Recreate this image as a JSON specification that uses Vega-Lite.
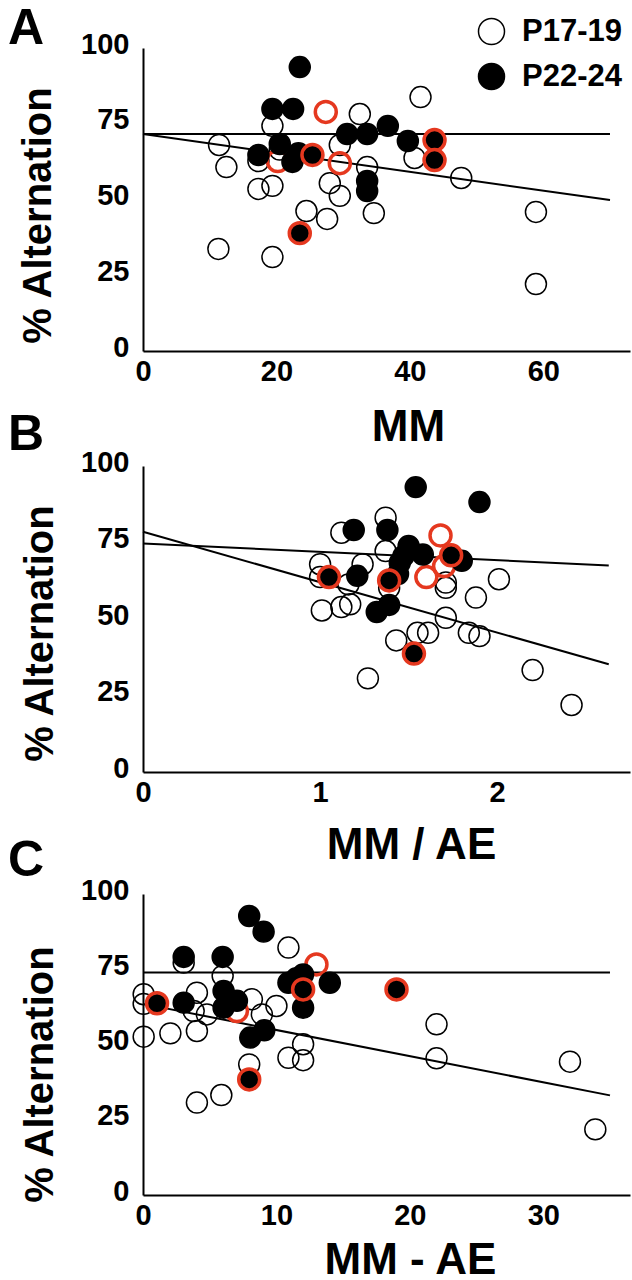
{
  "$schema": "https://vega.github.io/schema/vega-lite/v6.json",
  "background": "white",
  "padding": {"left": 8, "top": 4, "right": 2, "bottom": 0},
  "datasets": {
    "ptsA": [
      {"x": 41.6, "y": 83.8, "group": "P17-19", "hl": "no"},
      {"x": 32.5, "y": 78.2, "group": "P17-19", "hl": "no"},
      {"x": 19.4, "y": 74.3, "group": "P17-19", "hl": "no"},
      {"x": 11.4, "y": 68.0, "group": "P17-19", "hl": "no"},
      {"x": 12.5, "y": 60.7, "group": "P17-19", "hl": "no"},
      {"x": 17.3, "y": 53.5, "group": "P17-19", "hl": "no"},
      {"x": 19.4, "y": 54.5, "group": "P17-19", "hl": "no"},
      {"x": 29.5, "y": 68.0, "group": "P17-19", "hl": "no"},
      {"x": 17.3, "y": 62.7, "group": "P17-19", "hl": "no"},
      {"x": 40.7, "y": 63.7, "group": "P17-19", "hl": "no"},
      {"x": 47.7, "y": 57.1, "group": "P17-19", "hl": "no"},
      {"x": 58.9, "y": 45.9, "group": "P17-19", "hl": "no"},
      {"x": 58.9, "y": 22.1, "group": "P17-19", "hl": "no"},
      {"x": 28.0, "y": 55.4, "group": "P17-19", "hl": "no"},
      {"x": 29.5, "y": 51.2, "group": "P17-19", "hl": "no"},
      {"x": 24.5, "y": 46.2, "group": "P17-19", "hl": "no"},
      {"x": 27.6, "y": 43.6, "group": "P17-19", "hl": "no"},
      {"x": 34.6, "y": 45.5, "group": "P17-19", "hl": "no"},
      {"x": 11.3, "y": 33.7, "group": "P17-19", "hl": "no"},
      {"x": 19.4, "y": 31.0, "group": "P17-19", "hl": "no"},
      {"x": 33.6, "y": 60.7, "group": "P17-19", "hl": "no"},
      {"x": 20.5, "y": 66.5, "group": "P17-19", "hl": "no"},
      {"x": 27.4, "y": 78.9, "group": "P17-19", "hl": "yes"},
      {"x": 29.5, "y": 62.0, "group": "P17-19", "hl": "yes"},
      {"x": 20.2, "y": 62.7, "group": "P17-19", "hl": "yes"},
      {"x": 23.5, "y": 93.7, "group": "P22-24", "hl": "no"},
      {"x": 19.4, "y": 79.9, "group": "P22-24", "hl": "no"},
      {"x": 22.5, "y": 79.9, "group": "P22-24", "hl": "no"},
      {"x": 30.6, "y": 71.6, "group": "P22-24", "hl": "no"},
      {"x": 33.6, "y": 71.6, "group": "P22-24", "hl": "no"},
      {"x": 36.7, "y": 74.3, "group": "P22-24", "hl": "no"},
      {"x": 39.7, "y": 69.3, "group": "P22-24", "hl": "no"},
      {"x": 17.3, "y": 64.7, "group": "P22-24", "hl": "no"},
      {"x": 20.5, "y": 68.3, "group": "P22-24", "hl": "no"},
      {"x": 23.3, "y": 65.3, "group": "P22-24", "hl": "no"},
      {"x": 22.4, "y": 62.4, "group": "P22-24", "hl": "no"},
      {"x": 33.6, "y": 56.1, "group": "P22-24", "hl": "no"},
      {"x": 33.6, "y": 52.8, "group": "P22-24", "hl": "no"},
      {"x": 43.7, "y": 69.6, "group": "P22-24", "hl": "yes"},
      {"x": 43.7, "y": 63.0, "group": "P22-24", "hl": "yes"},
      {"x": 25.4, "y": 64.7, "group": "P22-24", "hl": "yes"},
      {"x": 23.5, "y": 38.9, "group": "P22-24", "hl": "yes"}
    ],
    "ptsB": [
      {"x": 1.37, "y": 83.1, "group": "P17-19", "hl": "no"},
      {"x": 1.12, "y": 78.2, "group": "P17-19", "hl": "no"},
      {"x": 1.00, "y": 67.9, "group": "P17-19", "hl": "no"},
      {"x": 1.24, "y": 67.9, "group": "P17-19", "hl": "no"},
      {"x": 1.00, "y": 63.7, "group": "P17-19", "hl": "no"},
      {"x": 1.71, "y": 61.9, "group": "P17-19", "hl": "no"},
      {"x": 1.71, "y": 60.2, "group": "P17-19", "hl": "no"},
      {"x": 2.01, "y": 63.0, "group": "P17-19", "hl": "no"},
      {"x": 1.88, "y": 57.0, "group": "P17-19", "hl": "no"},
      {"x": 1.01, "y": 52.8, "group": "P17-19", "hl": "no"},
      {"x": 1.12, "y": 53.9, "group": "P17-19", "hl": "no"},
      {"x": 1.17, "y": 54.8, "group": "P17-19", "hl": "no"},
      {"x": 1.16, "y": 61.3, "group": "P17-19", "hl": "no"},
      {"x": 1.71, "y": 50.4, "group": "P17-19", "hl": "no"},
      {"x": 1.61, "y": 45.5, "group": "P17-19", "hl": "no"},
      {"x": 1.55, "y": 45.5, "group": "P17-19", "hl": "no"},
      {"x": 1.84, "y": 45.5, "group": "P17-19", "hl": "no"},
      {"x": 1.90, "y": 44.4, "group": "P17-19", "hl": "no"},
      {"x": 1.43, "y": 43.0, "group": "P17-19", "hl": "no"},
      {"x": 1.27, "y": 30.6, "group": "P17-19", "hl": "no"},
      {"x": 2.20, "y": 33.3, "group": "P17-19", "hl": "no"},
      {"x": 2.42, "y": 21.9, "group": "P17-19", "hl": "no"},
      {"x": 1.39, "y": 60.2, "group": "P17-19", "hl": "no"},
      {"x": 1.37, "y": 72.2, "group": "P17-19", "hl": "no"},
      {"x": 1.68, "y": 77.3, "group": "P17-19", "hl": "yes"},
      {"x": 1.60, "y": 63.7, "group": "P17-19", "hl": "yes"},
      {"x": 1.70, "y": 67.3, "group": "P17-19", "hl": "yes"},
      {"x": 1.54, "y": 93.1, "group": "P22-24", "hl": "no"},
      {"x": 1.90, "y": 88.2, "group": "P22-24", "hl": "no"},
      {"x": 1.19, "y": 79.1, "group": "P22-24", "hl": "no"},
      {"x": 1.38, "y": 79.1, "group": "P22-24", "hl": "no"},
      {"x": 1.50, "y": 73.9, "group": "P22-24", "hl": "no"},
      {"x": 1.58, "y": 71.1, "group": "P22-24", "hl": "no"},
      {"x": 1.80, "y": 69.0, "group": "P22-24", "hl": "no"},
      {"x": 1.45, "y": 68.4, "group": "P22-24", "hl": "no"},
      {"x": 1.44, "y": 64.7, "group": "P22-24", "hl": "no"},
      {"x": 1.21, "y": 64.1, "group": "P22-24", "hl": "no"},
      {"x": 1.32, "y": 52.3, "group": "P22-24", "hl": "no"},
      {"x": 1.39, "y": 54.6, "group": "P22-24", "hl": "no"},
      {"x": 1.47, "y": 70.5, "group": "P22-24", "hl": "no"},
      {"x": 1.74, "y": 70.8, "group": "P22-24", "hl": "yes"},
      {"x": 1.05, "y": 63.7, "group": "P22-24", "hl": "yes"},
      {"x": 1.39, "y": 62.6, "group": "P22-24", "hl": "yes"},
      {"x": 1.53, "y": 38.7, "group": "P22-24", "hl": "yes"}
    ],
    "ptsC": [
      {"x": 10.9, "y": 82.2, "group": "P17-19", "hl": "no"},
      {"x": 3.05, "y": 77.2, "group": "P17-19", "hl": "no"},
      {"x": 5.97, "y": 72.8, "group": "P17-19", "hl": "no"},
      {"x": 0.05, "y": 66.7, "group": "P17-19", "hl": "no"},
      {"x": 0.05, "y": 63.5, "group": "P17-19", "hl": "no"},
      {"x": 4.04, "y": 67.2, "group": "P17-19", "hl": "no"},
      {"x": 4.79, "y": 60.0, "group": "P17-19", "hl": "no"},
      {"x": 4.04, "y": 54.5, "group": "P17-19", "hl": "no"},
      {"x": 2.05, "y": 53.7, "group": "P17-19", "hl": "no"},
      {"x": 0.05, "y": 52.6, "group": "P17-19", "hl": "no"},
      {"x": 8.16, "y": 65.0, "group": "P17-19", "hl": "no"},
      {"x": 8.91, "y": 60.0, "group": "P17-19", "hl": "no"},
      {"x": 10.0, "y": 62.8, "group": "P17-19", "hl": "no"},
      {"x": 3.8, "y": 61.1, "group": "P17-19", "hl": "no"},
      {"x": 12.0, "y": 50.1, "group": "P17-19", "hl": "no"},
      {"x": 12.0, "y": 44.8, "group": "P17-19", "hl": "no"},
      {"x": 10.9, "y": 45.6, "group": "P17-19", "hl": "no"},
      {"x": 7.96, "y": 43.4, "group": "P17-19", "hl": "no"},
      {"x": 5.87, "y": 33.2, "group": "P17-19", "hl": "no"},
      {"x": 4.04, "y": 30.7, "group": "P17-19", "hl": "no"},
      {"x": 22.0, "y": 56.7, "group": "P17-19", "hl": "no"},
      {"x": 22.0, "y": 45.4, "group": "P17-19", "hl": "no"},
      {"x": 32.0, "y": 44.3, "group": "P17-19", "hl": "no"},
      {"x": 33.9, "y": 21.8, "group": "P17-19", "hl": "no"},
      {"x": 13.0, "y": 76.6, "group": "P17-19", "hl": "yes"},
      {"x": 7.04, "y": 61.1, "group": "P17-19", "hl": "yes"},
      {"x": 7.96, "y": 92.7, "group": "P22-24", "hl": "no"},
      {"x": 9.04, "y": 87.5, "group": "P22-24", "hl": "no"},
      {"x": 3.05, "y": 79.1, "group": "P22-24", "hl": "no"},
      {"x": 5.97, "y": 79.1, "group": "P22-24", "hl": "no"},
      {"x": 12.0, "y": 73.3, "group": "P22-24", "hl": "no"},
      {"x": 10.9, "y": 70.5, "group": "P22-24", "hl": "no"},
      {"x": 14.0, "y": 70.5, "group": "P22-24", "hl": "no"},
      {"x": 12.0, "y": 62.2, "group": "P22-24", "hl": "no"},
      {"x": 3.05, "y": 63.9, "group": "P22-24", "hl": "no"},
      {"x": 6.04, "y": 67.8, "group": "P22-24", "hl": "no"},
      {"x": 6.04, "y": 62.2, "group": "P22-24", "hl": "no"},
      {"x": 7.04, "y": 64.5, "group": "P22-24", "hl": "no"},
      {"x": 8.04, "y": 52.3, "group": "P22-24", "hl": "no"},
      {"x": 9.09, "y": 54.7, "group": "P22-24", "hl": "no"},
      {"x": 11.5, "y": 72.0, "group": "P22-24", "hl": "no"},
      {"x": 12.0, "y": 68.3, "group": "P22-24", "hl": "yes"},
      {"x": 1.05, "y": 63.7, "group": "P22-24", "hl": "yes"},
      {"x": 7.96, "y": 38.4, "group": "P22-24", "hl": "yes"},
      {"x": 19.0, "y": 68.3, "group": "P22-24", "hl": "yes"}
    ],
    "linesA": [
      {"line": "L1", "x": 0, "y": 71.6}, {"line": "L1", "x": 70, "y": 71.6},
      {"line": "L2", "x": 0, "y": 71.6}, {"line": "L2", "x": 70, "y": 49.8}
    ],
    "linesB": [
      {"line": "L1", "x": 0, "y": 74.7}, {"line": "L1", "x": 2.63, "y": 67.5},
      {"line": "L2", "x": 0, "y": 78.5}, {"line": "L2", "x": 2.63, "y": 35.2}
    ],
    "linesC": [
      {"line": "L1", "x": 0, "y": 73.9}, {"line": "L1", "x": 35, "y": 73.9},
      {"line": "L2", "x": 0, "y": 63.5}, {"line": "L2", "x": 35, "y": 33.1}
    ]
  },
  "bounds": "flush",
  "spacing": 115,
  "vconcat": [
    {
      "width": 487,
      "height": 303,
      "title": {"text": "A", "offset": -24},
      "layer": [
        {
          "data": {"name": "linesA"},
          "mark": {"type": "line", "color": "black", "strokeWidth": 2},
          "encoding": {
            "x": {"field": "x", "type": "quantitative", "scale": {"domain": [0, 73], "nice": false}, "axis": {"values": [0, 20, 40, 60], "format": "d", "title": "MM", "titleX": 265, "titleY": 89}},
            "y": {"field": "y", "type": "quantitative", "scale": {"domain": [0, 100], "nice": false}, "axis": {"values": [0, 25, 50, 75, 100], "title": "% Alternation", "titleX": -93, "titleY": 167}},
            "detail": {"field": "line"}
          }
        },
        {
          "data": {"name": "ptsA"},
          "mark": {"type": "point", "shape": "circle", "filled": true, "size": 440, "opacity": 1},
          "encoding": {
            "x": {"field": "x", "type": "quantitative"},
            "y": {"field": "y", "type": "quantitative"},
            "fill": {"field": "group", "type": "nominal", "scale": {"domain": ["P17-19", "P22-24"], "range": ["rgba(255,255,255,0)", "black"]}, "legend": {"title": null}},
            "stroke": {"field": "hl", "type": "nominal", "scale": {"domain": ["no", "yes"], "range": ["black", "#e5381f"]}, "legend": null},
            "strokeWidth": {"field": "hl", "type": "nominal", "scale": {"domain": ["no", "yes"], "range": [1.5, 3.5]}, "legend": null}
          }
        }
      ]
    },
    {
      "bounds": "flush",
      "spacing": 122,
      "vconcat": [
        {
          "width": 487,
          "height": 306,
          "title": {"text": "B", "offset": -12},
          "layer": [
            {
              "data": {"name": "linesB"},
              "mark": {"type": "line", "color": "black", "strokeWidth": 2},
              "encoding": {
                "x": {"field": "x", "type": "quantitative", "scale": {"domain": [0, 2.75], "nice": false}, "axis": {"values": [0, 1, 2], "format": "d", "title": "MM / AE", "titleX": 268, "titleY": 86}},
                "y": {"field": "y", "type": "quantitative", "scale": {"domain": [0, 100], "nice": false}, "axis": {"values": [0, 25, 50, 75, 100], "title": "% Alternation", "titleX": -91, "titleY": 167}},
                "detail": {"field": "line"}
              }
            },
            {
              "data": {"name": "ptsB"},
              "mark": {"type": "point", "shape": "circle", "filled": true, "size": 440, "opacity": 1},
              "encoding": {
                "x": {"field": "x", "type": "quantitative"},
                "y": {"field": "y", "type": "quantitative"},
                "fill": {"field": "group", "type": "nominal", "scale": {"domain": ["P17-19", "P22-24"], "range": ["rgba(255,255,255,0)", "black"]}, "legend": {"title": null}},
                "stroke": {"field": "hl", "type": "nominal", "scale": {"domain": ["no", "yes"], "range": ["black", "#e5381f"]}, "legend": null},
                "strokeWidth": {"field": "hl", "type": "nominal", "scale": {"domain": ["no", "yes"], "range": [1.5, 3.5]}, "legend": null}
              }
            }
          ]
        },
        {
          "width": 487,
          "height": 301,
          "title": {"text": "C", "offset": -10},
          "layer": [
            {
              "data": {"name": "linesC"},
              "mark": {"type": "line", "color": "black", "strokeWidth": 2},
              "encoding": {
                "x": {"field": "x", "type": "quantitative", "scale": {"domain": [0, 36.5], "nice": false}, "axis": {"values": [0, 10, 20, 30], "format": "d", "title": "MM - AE", "titleX": 267, "titleY": 78}},
                "y": {"field": "y", "type": "quantitative", "scale": {"domain": [0, 100], "nice": false}, "axis": {"values": [0, 25, 50, 75, 100], "title": "% Alternation", "titleX": -91, "titleY": 180}},
                "detail": {"field": "line"}
              }
            },
            {
              "data": {"name": "ptsC"},
              "mark": {"type": "point", "shape": "circle", "filled": true, "size": 440, "opacity": 1},
              "encoding": {
                "x": {"field": "x", "type": "quantitative"},
                "y": {"field": "y", "type": "quantitative"},
                "fill": {"field": "group", "type": "nominal", "scale": {"domain": ["P17-19", "P22-24"], "range": ["rgba(255,255,255,0)", "black"]}, "legend": {"title": null}},
                "stroke": {"field": "hl", "type": "nominal", "scale": {"domain": ["no", "yes"], "range": ["black", "#e5381f"]}, "legend": null},
                "strokeWidth": {"field": "hl", "type": "nominal", "scale": {"domain": ["no", "yes"], "range": [1.5, 3.5]}, "legend": null}
              }
            }
          ]
        }
      ]
    }
  ],
  "config": {
    "view": {"stroke": null},
    "font": "Liberation Sans",
    "axis": {
      "domainColor": "black",
      "domainWidth": 2,
      "ticks": false,
      "grid": false,
      "labelFont": "Liberation Sans",
      "labelFontWeight": "bold",
      "labelFontSize": 29,
      "labelColor": "black",
      "titleFont": "Liberation Sans",
      "titleFontWeight": "bold",
      "titleColor": "black"
    },
    "axisX": {"labelPadding": 6, "titleFontSize": 44, "titleBaseline": "alphabetic", "titleAlign": "center", "labelFlush": false},
    "axisY": {"labelPadding": 14, "labelOffset": -4, "titleFontSize": 40, "titleBaseline": "alphabetic", "titleAlign": "center", "titleAngle": 270},
    "title": {"anchor": "start", "frame": "group", "dx": -135, "fontSize": 50, "fontWeight": "bold", "font": "Liberation Sans", "color": "black", "baseline": "alphabetic"},
    "legend": {
      "orient": "none",
      "legendX": 333,
      "legendY": -32,
      "labelFont": "Liberation Sans",
      "labelFontWeight": "bold",
      "labelFontSize": 31,
      "labelColor": "black",
      "symbolSize": 676,
      "symbolStrokeColor": "black",
      "symbolStrokeWidth": 1.5,
      "rowPadding": 12,
      "labelOffset": 15
    }
  }
}
